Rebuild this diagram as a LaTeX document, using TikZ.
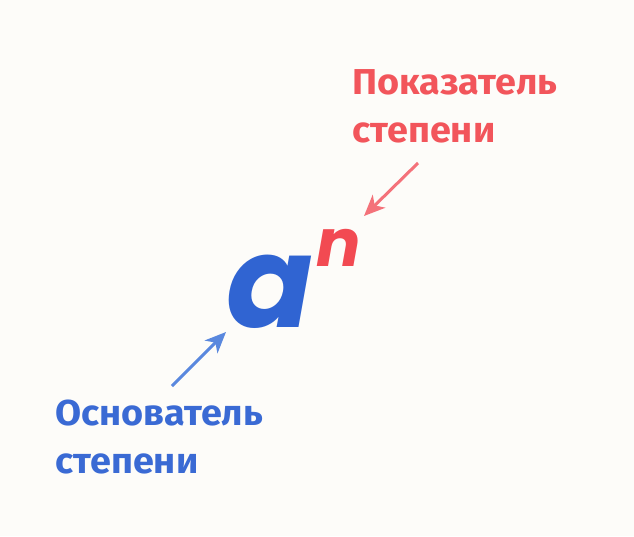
\documentclass[tikz,border=0pt]{standalone}
\usepackage{fontspec}
\setmainfont{Fira Sans}[FakeStretch=1.05]
\newfontfamily\powfont{Poppins}
\usetikzlibrary{arrows.meta,positioning}
\definecolor{bgcol}{HTML}{FDFCF9}
\definecolor{acol}{HTML}{3064D2}
\definecolor{ncol}{HTML}{F24A52}
\definecolor{bluetxt}{HTML}{3A6AD4}
\definecolor{redtxt}{HTML}{F2555B}
\definecolor{bluearr}{HTML}{5A88DE}
\definecolor{redarr}{HTML}{F4727A}

\begin{document}
\begin{tikzpicture}[x=1pt,y=-1pt]
        \tikzset{lbl/.style = {inner sep=0pt, align=left, anchor=base west, font=\bfseries\fontsize{36}{48}\selectfont},
                 ptr/.style = {line width=3pt, -{Stealth[length=21pt,width=18pt,inset=6pt]}}}
        \fill[bgcol] (0,0) rectangle (634,536);
        \useasboundingbox (0,0) rectangle (634,536);
        \node[inner sep=0pt, anchor=base, text=acol, font=\powfont\bfseries\itshape\fontsize{128}{128}\selectfont] (a) at (270,327) {a};
        \node[inner sep=0pt, anchor=base west, text=ncol, font=\powfont\bfseries\itshape\fontsize{66}{66}\selectfont] (n) at (316,266) {n};
        % base of a two-line node is its second line
        \node[lbl, text=redtxt] (pok) at (352,142) {Показатель\\степени};
        \node[lbl, text=bluetxt] (osn) at (55,473) {Основатель\\степени};
        \coordinate (pokfrom) at (418,163);
        \coordinate (pokto) at (364,216);
        \coordinate (osnfrom) at (172,386);
        \coordinate (osnto) at (226,332);
        \draw[ptr, redarr] (pokfrom) -- (pokto);
        \draw[ptr, bluearr] (osnfrom) -- (osnto);
    \end{tikzpicture}
\end{document}
